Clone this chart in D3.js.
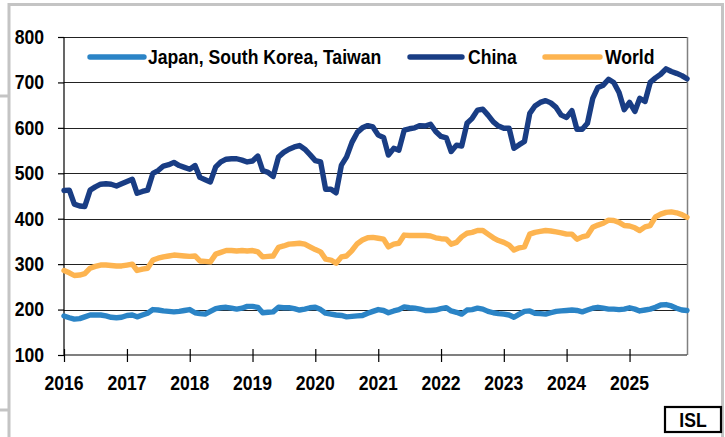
<!DOCTYPE html>
<html><head><meta charset="utf-8">
<script src="https://cdn.jsdelivr.net/npm/d3@7"></script>
<style>body{margin:0;background:#fff}svg{display:block}</style>
</head><body>
<svg id="c" width="725" height="437"></svg>
<script>
const startYear = 2016;
const yearTicks = [2016,2017,2018,2019,2020,2021,2022,2023,2024,2025];
const yTicks = [100,200,300,400,500,600,700,800];
const seriesNames = ["Japan, South Korea, Taiwan","China","World"];
const seriesColors = ["#2b84c6","#193d84","#fdb450"];

const japan = [186,182,179,180,184,188,188,188,186,183,182,183,187,188,184,188,192,200,199,197,196,195,196,198,200,193,191,190,196,202,204,205,203,201,203,207,207,205,193,194,195,205,204,204,202,199,201,204,205,200,192,190,188,187,184,185,186,187,192,196,200,198,193,197,200,206,204,203,201,198,198,199,202,204,197,194,190,199,200,203,201,196,193,191,190,188,183,190,196,197,192,191,190,193,196,197,198,199,198,195,199,203,205,203,201,201,200,201,204,201,197,199,201,205,210,211,208,203,199,198];
const china = [462,463,432,428,427,463,470,476,477,476,472,477,482,487,456,460,463,500,506,516,519,524,517,513,509,517,491,486,481,514,525,531,532,532,529,525,527,538,506,502,493,536,546,553,558,561,553,541,528,525,465,465,457,518,536,568,590,600,605,602,584,579,540,555,551,595,598,600,605,604,608,592,581,578,548,562,560,610,621,639,641,628,613,604,599,599,555,563,570,632,648,656,660,655,645,628,623,638,597,597,610,665,689,694,707,700,678,640,656,636,665,658,700,710,718,730,724,720,715,708];
const world = [286,281,275,276,279,291,295,298,298,297,296,296,298,300,286,289,291,309,313,316,318,320,319,318,317,318,307,306,305,322,326,330,330,329,330,329,330,327,316,317,318,337,340,344,345,346,344,338,332,327,311,309,302,316,318,330,345,353,358,359,357,355,338,344,346,364,363,363,363,363,362,358,356,355,344,348,360,368,370,374,374,366,358,352,348,342,331,336,338,366,370,372,374,373,371,369,366,366,355,360,363,381,386,390,397,396,392,385,384,380,374,382,385,404,410,414,415,413,409,403];

const svg = d3.select("#c");
const FONT = "'Liberation Sans', Arial, sans-serif";
const L = 64, R = 687, T = 37, B = 355;

const start = new Date(startYear, 0, 1);
const dateAt = i => d3.timeMonth.offset(start, i);
const x = d3.scaleTime().domain([start, dateAt(china.length - 1)]).range([L, R]);
const y = d3.scaleLinear().domain([100, 800]).range([B, T]);

// frame
svg.append("rect").attr("x",9).attr("y",4.5).attr("width",713.5).attr("height",440)
  .attr("fill","#fff").attr("stroke","#c4c4c4").attr("stroke-width",3);
svg.append("line").attr("x1",0).attr("x2",8).attr("y1",96).attr("y2",96).attr("stroke","#c4c4c4").attr("stroke-width",3);
svg.append("line").attr("x1",0).attr("x2",8).attr("y1",410).attr("y2",410).attr("stroke","#c4c4c4").attr("stroke-width",3);

function txt(g, s, tx, ty, anchor, size) {
  return g.append("text").attr("transform", `translate(${tx},${ty}) scale(1,1.14)`)
    .attr("text-anchor", anchor).attr("font-family", FONT).attr("font-weight","bold")
    .attr("font-size", size).attr("fill","#000").text(s);
}

// gridlines
const grid = svg.append("g");
yTicks.filter(v => v > 100).forEach(v => {
  grid.append("line").attr("x1",L).attr("x2",R).attr("y1",Math.round(y(v))+0.5).attr("y2",Math.round(y(v))+0.5)
    .attr("stroke","#222").attr("stroke-width",1);
});
// right border
svg.append("line").attr("x1",R+0.5).attr("x2",R+0.5).attr("y1",T).attr("y2",B).attr("stroke","#808080").attr("stroke-width",1.5);

// y axis
const yAxis = d3.axisLeft(y).tickValues(yTicks).tickSize(6).tickFormat("");
const ga = svg.append("g").attr("transform",`translate(${L},0)`).call(yAxis);
ga.selectAll("path,line").attr("stroke","#000").attr("stroke-width",1.2);
ga.select(".domain").attr("d",`M0,${T}V${B}`);
yTicks.forEach(v => txt(svg, String(v), 44, y(v)+6.8, "end", 17.6));

// x axis
const xAxis = d3.axisBottom(x).tickValues(yearTicks.map(yr => new Date(yr,0,1))).tickSize(7).tickFormat("");
const gx = svg.append("g").attr("transform",`translate(0,${B})`).call(xAxis);
gx.selectAll("path,line").attr("stroke","#000").attr("stroke-width",1.2);
gx.select(".domain").attr("d",`M${L},0H${R}`);
gx.selectAll(".tick line").attr("y1",-6);
yearTicks.forEach(yr => txt(svg, String(yr), x(new Date(yr,0,1)), 390, "middle", 17.6));

// lines
const line = d3.line().x((d,i) => x(dateAt(i))).y(d => y(d));
[[world,2],[japan,0],[china,1]].forEach(([data, k]) => {
  svg.append("path").datum(data).attr("d", line).attr("fill","none")
    .attr("stroke", seriesColors[k]).attr("stroke-width",5.4)
    .attr("stroke-linejoin","round").attr("stroke-linecap","round");
});

// legend
const leg = [[90,144,148],[410,462,468],[545,600,605]];
leg.forEach(([a,b,tx],k) => {
  svg.append("line").attr("x1",a).attr("x2",b).attr("y1",57).attr("y2",57)
    .attr("stroke",seriesColors[k]).attr("stroke-width",5.4).attr("stroke-linecap","round");
  txt(svg, seriesNames[k], tx, 64, "start", 17.6);
});

// ISL box
svg.append("rect").attr("x",665).attr("y",407).attr("width",56).attr("height",25)
  .attr("fill","#fff").attr("stroke","#000").attr("stroke-width",2.2);
txt(svg, "ISL", 693, 426.5, "middle", 17.6);
</script>
</body></html>
